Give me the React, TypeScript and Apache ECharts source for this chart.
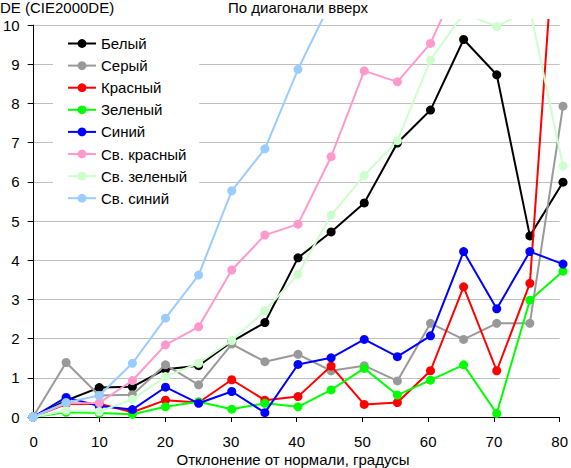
import React, { useEffect, useRef } from "react";
import * as echarts from "echarts";

const angles = [0, 5, 10, 15, 20, 25, 30, 35, 40, 45, 50, 55, 60, 65, 70, 75, 80];

const white = [0, 0.42, 0.75, 0.77, 1.22, 1.31, 1.92, 2.41, 4.06, 4.72, 5.46, 6.99, 7.83, 9.63, 8.73, 4.62, 5.99];
const gray = [0, 1.39, 0.55, 0.57, 1.33, 0.82, 1.86, 1.41, 1.6, 1.18, 1.31, 0.92, 2.39, 1.98, 2.39, 2.39, 7.93];
const red = [0, 0.33, 0.34, 0.12, 0.43, 0.37, 0.95, 0.43, 0.52, 1.3, 0.32, 0.37, 1.18, 3.32, 1.18, 3.41, 15.4];
const green = [0, 0.12, 0.1, 0.07, 0.26, 0.39, 0.2, 0.35, 0.26, 0.69, 1.24, 0.56, 0.94, 1.33, 0.09, 2.98, 3.72];
const blue = [0, 0.5, 0.28, 0.19, 0.76, 0.35, 0.65, 0.11, 1.34, 1.51, 1.98, 1.54, 2.07, 4.22, 2.76, 4.22, 3.9];
const lightRed = [0, 0.35, 0.36, 0.93, 1.84, 2.3, 3.75, 4.64, 4.92, 6.64, 8.83, 8.55, 9.53, 11.4, null, null, null];
const lightGreen = [0, 0.16, 0.14, 0.45, 1.03, 1.37, 1.95, 2.71, 3.64, 5.15, 6.16, 7.05, 9.11, 10.3, 9.96, 10.4, 6.4];
const lightBlue = [0, 0.37, 0.55, 1.37, 2.52, 3.62, 5.77, 6.84, 8.87, 10.6, null, null, null, null, null, null, null];

const seriesNames = ["Белый", "Серый", "Красный", "Зеленый", "Синий", "Св. красный", "Св. зеленый", "Св. синий"];
const seriesValues = [white, gray, red, green, blue, lightRed, lightGreen, lightBlue];
const seriesColors = ["#000000", "#999999", "#ff0000", "#00ff00", "#0000ff", "#ff99cc", "#ccffcc", "#99ccff"];

const yTitle = "DE (CIE2000DE)";
const chartTitle = "По диагонали вверх";
const xTitle = "Отклонение от нормали, градусы";

const FONT = "'Liberation Sans', Arial, sans-serif";
const FS = 15;

export default function App() {
  const ref = useRef<HTMLDivElement>(null);
  useEffect(() => {
    if (!ref.current) return;
    const chart = echarts.init(ref.current, null, { renderer: "svg" });
    const gridLeft = 33;
    const gridRight = 8;
    const gridBottom = 51;
    const gridTop = 25;
    const plotH = 468 - gridTop - gridBottom;
    const overTop = 5;
    const yMaxOver = 10 + (10 * overTop) / plotH;

    chart.setOption({
      animation: false,
      backgroundColor: "#ffffff",
      textStyle: { fontFamily: FONT },
      grid: [
        { left: gridLeft, right: gridRight, top: gridTop, bottom: gridBottom },
        { left: gridLeft, right: gridRight, top: gridTop - overTop, bottom: gridBottom },
      ],
      xAxis: [
        {
          type: "value",
          gridIndex: 0,
          min: 0,
          max: 80,
          interval: 10,
          axisLine: { show: true, onZero: false, lineStyle: { color: "#000", width: 1 } },
          axisTick: { show: true, inside: false, length: 5, lineStyle: { color: "#000" } },
          axisLabel: { color: "#000", fontSize: FS, fontFamily: FONT, margin: 17 },
          splitLine: { show: false },
        },
        {
          type: "value",
          gridIndex: 1,
          min: 0,
          max: 80,
          show: false,
        },
      ],
      yAxis: [
        {
          type: "value",
          gridIndex: 0,
          min: 0,
          max: 10,
          interval: 1,
          axisLine: { show: true, onZero: false, lineStyle: { color: "#000", width: 1 } },
          axisTick: { show: true, inside: false, length: 6, lineStyle: { color: "#000" } },
          axisLabel: { color: "#000", fontSize: FS, fontFamily: FONT, margin: 14 },
          splitLine: { show: true, lineStyle: { color: "#c0c0c0", width: 1 } },
        },
        {
          type: "value",
          gridIndex: 1,
          min: 0,
          max: yMaxOver,
          show: false,
          splitLine: { show: false },
        },
      ],
      legend: {
        show: true,
        orient: "vertical",
        left: 53,
        top: 30,
        padding: [6, 12, 6, 14],
        backgroundColor: "#ffffff",
        itemWidth: 28,
        itemHeight: 11,
        itemGap: 7.1,
        selectedMode: false,
        textStyle: { color: "#000", fontSize: FS, fontFamily: FONT, lineHeight: 14 },
        data: seriesNames,
      },
      graphic: [
        {
          type: "text",
          x: 0,
          y: 7,
          style: { text: yTitle, fill: "#000", font: `${FS}px ${FONT}`, align: "left", verticalAlign: "middle" },
        },
        {
          type: "text",
          x: 298,
          y: 7,
          style: { text: chartTitle, fill: "#000", font: `${FS}px ${FONT}`, align: "center", verticalAlign: "middle" },
        },
        {
          type: "text",
          x: 293,
          y: 459,
          style: { text: xTitle, fill: "#000", font: `${FS}px ${FONT}`, align: "center", verticalAlign: "middle" },
        },
      ],
      series: seriesNames.map((name, i) => ({
        name,
        type: "line",
        xAxisIndex: 1,
        yAxisIndex: 1,
        data: angles.map((a, j) => [a, seriesValues[i][j]]),
        symbol: "circle",
        symbolSize: 9,
        showSymbol: true,
        connectNulls: false,
        clip: true,
        color: seriesColors[i],
        itemStyle: { color: seriesColors[i] },
        lineStyle: { color: seriesColors[i], width: 2 },
        emphasis: { disabled: true },
        z: 2 + i * 0.01,
      })),
    });
    return () => chart.dispose();
  }, []);
  return (
    <div
      ref={ref}
      style={{ position: "absolute", left: 0, top: 0, width: 571, height: 468 }}
    />
  );
}
